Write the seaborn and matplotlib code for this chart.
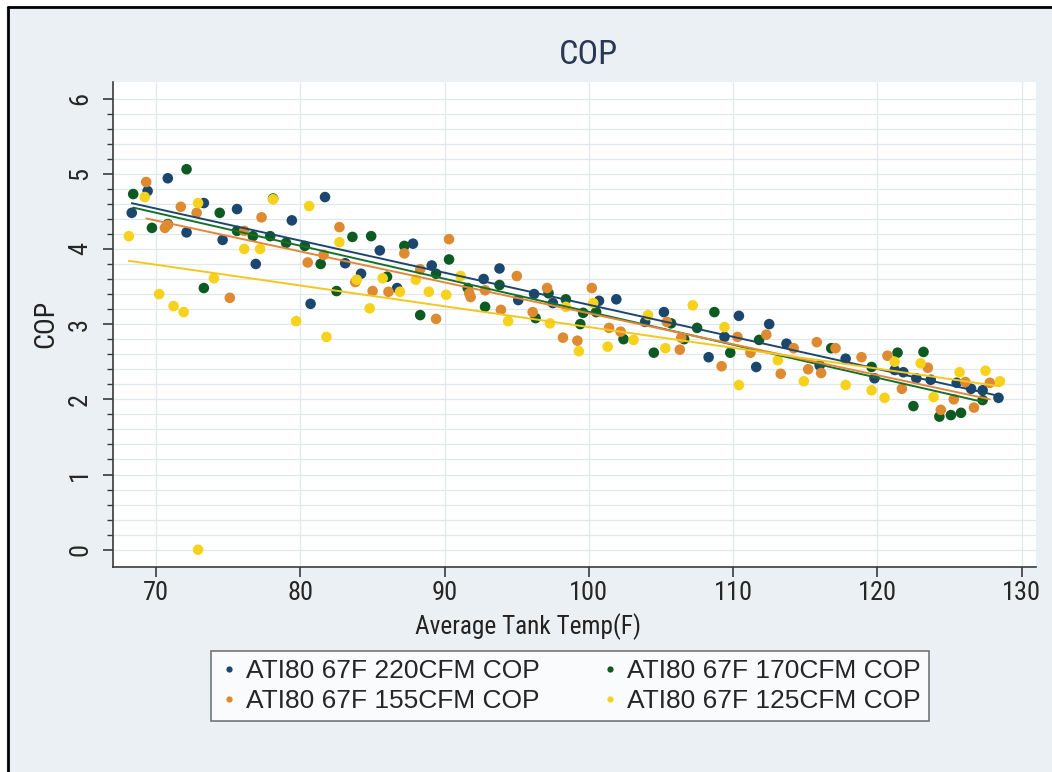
import matplotlib
matplotlib.use("Agg")
import matplotlib.pyplot as plt
from matplotlib.lines import Line2D
from matplotlib.patches import Rectangle
from matplotlib import font_manager
import seaborn as sns
import pandas as pd
import numpy as np

# ---------------- data ----------------
series_names = ["ATI80 67F 220CFM COP", "ATI80 67F 170CFM COP",
                "ATI80 67F 155CFM COP", "ATI80 67F 125CFM COP"]

temp_220 = [68.3, 69.4, 70.8, 72.1, 73.3, 74.6, 75.6, 76.9, 79.4, 80.7, 81.7, 83.1, 84.2,
            85.5, 86.7, 87.8, 89.1, 92.7, 93.8, 95.1, 96.2, 97.5, 100.7, 101.9, 103.9,
            105.2, 108.3, 109.4, 110.4, 111.6, 112.5, 113.7, 116.0, 117.8, 119.8, 121.2,
            121.8, 122.7, 123.7, 125.5, 126.5, 127.3, 128.4]
cop_220 = [4.48, 4.77, 4.94, 4.22, 4.61, 4.12, 4.53, 3.80, 4.38, 3.27, 4.69, 3.81, 3.67,
           3.98, 3.48, 4.07, 3.78, 3.60, 3.74, 3.32, 3.40, 3.28, 3.31, 3.33, 3.03,
           3.16, 2.56, 2.83, 3.11, 2.43, 3.00, 2.74, 2.45, 2.54, 2.28, 2.39,
           2.36, 2.28, 2.26, 2.22, 2.14, 2.12, 2.02]

temp_170 = [68.4, 69.7, 70.8, 72.1, 73.3, 74.4, 75.6, 76.7, 77.9, 78.1, 79.0, 80.3, 81.4,
            82.5, 83.6, 84.9, 86.0, 87.2, 88.3, 89.4, 90.3, 91.6, 92.8, 93.8, 96.3, 97.2,
            98.4, 99.4, 99.6, 100.5, 102.4, 104.5, 105.7, 106.6, 107.5, 108.7, 109.8,
            111.8, 116.8, 119.6, 121.4, 122.5, 123.2, 124.3, 125.1, 125.8, 127.3]
cop_170 = [4.73, 4.28, 4.33, 5.06, 3.48, 4.48, 4.24, 4.17, 4.17, 4.67, 4.08, 4.04, 3.80,
           3.44, 4.16, 4.17, 3.63, 4.04, 3.12, 3.67, 3.86, 3.48, 3.23, 3.52, 3.08, 3.41,
           3.33, 3.00, 3.15, 3.16, 2.80, 2.62, 3.01, 2.80, 2.95, 3.16, 2.62,
           2.79, 2.68, 2.43, 2.62, 1.91, 2.63, 1.77, 1.79, 1.82, 1.99]

temp_155 = [69.3, 70.6, 70.8, 71.7, 72.8, 75.1, 76.1, 77.3, 80.5, 81.6, 82.7, 83.8, 85.0,
            86.1, 87.2, 88.3, 89.4, 90.3, 91.7, 91.8, 92.8, 93.9, 95.0, 96.1, 97.1, 98.2,
            99.2, 100.2, 101.4, 102.2, 105.4, 106.3, 106.4, 109.2, 110.3, 111.2, 112.3,
            113.3, 114.2, 115.2, 115.8, 116.1, 117.1, 118.9, 120.7, 121.7, 123.5, 124.4,
            125.3, 126.1, 126.7, 127.8]
cop_155 = [4.89, 4.28, 4.32, 4.56, 4.48, 3.35, 4.24, 4.42, 3.82, 3.92, 4.29, 3.56, 3.44,
           3.43, 3.94, 3.73, 3.07, 4.13, 3.41, 3.36, 3.45, 3.19, 3.64, 3.16, 3.48, 2.82,
           2.78, 3.48, 2.95, 2.90, 3.03, 2.66, 2.82, 2.44, 2.83, 2.62, 2.86,
           2.34, 2.68, 2.40, 2.76, 2.35, 2.68, 2.56, 2.58, 2.14, 2.42, 1.86,
           2.00, 2.23, 1.89, 2.22]

temp_125 = [68.1, 69.2, 70.2, 71.2, 71.9, 72.9, 72.9, 74.0, 76.1, 77.2, 78.1, 79.7, 80.6,
            81.8, 82.7, 83.9, 84.8, 85.7, 86.9, 88.0, 88.9, 90.1, 91.1, 94.4, 97.3, 98.4,
            99.3, 100.3, 101.3, 103.1, 104.1, 105.3, 107.2, 109.4, 110.4, 113.1, 114.9,
            117.8, 119.6, 120.5, 121.2, 123.0, 123.9, 125.7, 127.5, 128.5]
cop_125 = [4.17, 4.69, 3.40, 3.24, 3.16, 4.61, 0.00, 3.61, 4.00, 4.00, 4.66, 3.04, 4.57,
           2.83, 4.09, 3.59, 3.21, 3.61, 3.43, 3.59, 3.43, 3.39, 3.64, 3.04, 3.01, 3.23,
           2.64, 3.28, 2.70, 2.79, 3.12, 2.68, 3.25, 2.96, 2.19, 2.52, 2.24,
           2.19, 2.12, 2.02, 2.50, 2.48, 2.03, 2.36, 2.38, 2.24]

x_ticks = [70, 80, 90, 100, 110, 120, 130]
y_ticks = [0, 1, 2, 3, 4, 5, 6]

point_colors = ["#1b466e", "#0d5a22", "#de8a31", "#f6d21c"]
line_colors = ["#1b466e", "#17702a", "#e3873a", "#f2c81e"]

temps = [temp_220, temp_170, temp_155, temp_125]
cops = [cop_220, cop_170, cop_155, cop_125]
df = pd.concat([pd.DataFrame({"temp": t, "cop": c, "series": n})
                for t, c, n in zip(temps, cops, series_names)], ignore_index=True)

# ---------------- style ----------------
sns.set_theme(style="white")

# prefer a narrow sans (the reference uses a condensed Arial-like face)
names = {f.name for f in font_manager.fontManager.ttflist}
fam, condensed = "Liberation Sans", False
for cand in ["Liberation Sans Narrow", "Arial Narrow", "Roboto Condensed",
             "Noto Sans Condensed", "Open Sans Condensed"]:
    if cand in names:
        fam, condensed = cand, True
        break
plt.rcParams["font.family"] = [fam, "DejaVu Sans"]
k = 1.12 if condensed else 1.0

W, H = 1052, 772
bg = "#eaf0f3"
fig = plt.figure(figsize=(W / 100, H / 100), dpi=100, facecolor=bg)
ax = fig.add_axes([113 / W, 1 - 567 / H, (1036 - 113) / W, (567 - 82) / H])
ax.set_facecolor("white")

palette = dict(zip(series_names, point_colors))
sns.scatterplot(data=df, x="temp", y="cop", hue="series", palette=palette,
                s=58, linewidth=0, legend=False, ax=ax, zorder=3)
for name, lc in zip(series_names, line_colors):
    sub = df[df["series"] == name]
    sns.regplot(data=sub, x="temp", y="cop", scatter=False, ci=None, ax=ax,
                line_kws={"color": lc, "lw": 1.4, "zorder": 4})

ax.set_xlim(67.0, 131.0)
ax.set_ylim(-0.23, 6.22)
ax.set_xticks(x_ticks)
ax.set_yticks(y_ticks)
ax.set_yticks(np.arange(-0.0, 6.01, 0.2), minor=True)
ax.set_xlabel("")
ax.set_ylabel("")

grid_c = "#e1e8eb"
for v in np.arange(0, 6.01, 0.2):
    ax.axhline(v, color=grid_c, lw=0.9, zorder=1)
for v in x_ticks:
    ax.axvline(v, color=grid_c, lw=0.9, zorder=1)

for s in ["top", "right"]:
    ax.spines[s].set_visible(False)
for s in ["left", "bottom"]:
    ax.spines[s].set_color("#3a3a3a")
    ax.spines[s].set_linewidth(1.2)

ax.tick_params(axis="x", which="major", length=7, width=1.2, color="#3a3a3a",
               labelsize=17 * k, pad=3, bottom=True)
ax.tick_params(axis="y", which="major", length=7, width=1.2, color="#3a3a3a",
               labelsize=17 * k, pad=8, left=True)
ax.tick_params(axis="y", which="minor", length=4, width=1.0, color="#3a3a3a", left=True)
for lab in ax.get_yticklabels():
    lab.set_rotation(90)
    lab.set_va("center")

fig.text(588 / W, 1 - 55 / H, "COP", ha="center", va="center", fontsize=22 * k,
         color="#2a3855")
fig.text(528 / W, 1 - 627 / H, "Average Tank Temp(F)", ha="center", va="center",
         fontsize=18.2 if condensed else 16, color="#222222")
fig.text(46 / W, 1 - 324 / H, "COP", ha="center", va="center", rotation=90,
         fontsize=18 * k, color="#222222")

handles = [Line2D([], [], marker="o", linestyle="none", markersize=4.5,
                  markerfacecolor=c, markeredgewidth=0) for c in point_colors]
order = [0, 2, 1, 3]
leg = fig.legend([handles[i] for i in order], [series_names[i] for i in order],
                 loc="center", bbox_to_anchor=(570 / W, 1 - 686 / H), ncol=2,
                 frameon=True, fancybox=False,
                 prop={"family": ["Liberation Sans", "DejaVu Sans"], "size": 19},
                 handletextpad=0.3, columnspacing=2.3, borderpad=0.32,
                 labelspacing=0.22, handlelength=0.7, borderaxespad=0)
leg.get_frame().set_edgecolor("#555555")
leg.get_frame().set_linewidth(1.2)
leg.get_frame().set_facecolor("white")

# document frame (cropped page border)
fig.add_artist(Rectangle((0, 1 - 6 / H), 1, 6 / H, transform=fig.transFigure,
                         facecolor="white", edgecolor="none", zorder=0.5))
fig.add_artist(Rectangle((0, 0), 6 / W, 1, transform=fig.transFigure,
                         facecolor="white", edgecolor="none", zorder=0.5))
fig.add_artist(Line2D([7.5 / W, 7.5 / W], [0, 1 - 7 / H], transform=fig.transFigure,
                      color="black", lw=2))
fig.add_artist(Line2D([7.5 / W, 1], [1 - 7 / H, 1 - 7 / H], transform=fig.transFigure,
                      color="black", lw=2))

fig.savefig("out.png", dpi=100, facecolor=bg)
